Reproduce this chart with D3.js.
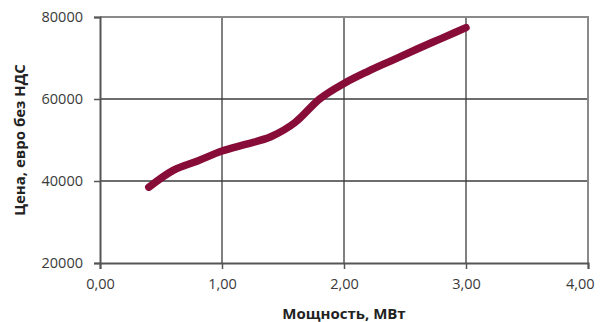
<!DOCTYPE html>
<html>
<head>
<meta charset="utf-8">
<script src="https://cdn.jsdelivr.net/npm/d3@7"></script>
<style>
  body { margin: 0; background: #fff; }
  svg { display: block; }
  .tick text { font-family: "Open Sans", sans-serif; font-size: 14.5px; fill: #3a3a3a; }
  .title { font-family: "Open Sans", sans-serif; font-size: 15px; font-weight: 700; fill: #222; }
</style>
</head>
<body>
<svg id="graphsvg" width="601" height="322"></svg>
<script>
// power, MW
var power = [0.4, 0.6, 0.8, 1.0, 1.2, 1.4, 1.6, 1.8, 2.0, 2.2, 2.4, 2.6, 2.8, 3.0];
// price, EUR w/o VAT
var price = [38500, 42600, 44900, 47300, 49000, 50800, 54300, 60000, 63800, 66800, 69500, 72200, 74800, 77400];
var xTicks = [0, 1, 2, 3, 4];
var yTicks = [20000, 40000, 60000, 80000];

var svg = d3.select("#graphsvg"),
    margin = {top: 17, right: 13, bottom: 59, left: 100},
    width = 601 - margin.left - margin.right,
    height = 322 - margin.top - margin.bottom;

var g = svg.append("g")
  .attr("transform", "translate(" + margin.left + "," + margin.top + ")");

var x = d3.scaleLinear().domain([0, 4]).range([0, width]);
var y = d3.scaleLinear().domain([20000, 80000]).range([height, 0]);
var fmt = function(d) { return d3.format(".2f")(d).replace(".", ","); };

// grid
g.append("g").selectAll("line").data(yTicks.slice(1, -1)).enter().append("line")
  .attr("x1", 0).attr("x2", width)
  .attr("y1", function(d) { return y(d); }).attr("y2", function(d) { return y(d); })
  .attr("stroke", "#3c3c3c").attr("stroke-width", 1.3);
g.append("g").selectAll("line").data(xTicks.slice(1, -1)).enter().append("line")
  .attr("y1", 0).attr("y2", height)
  .attr("x1", function(d) { return x(d); }).attr("x2", function(d) { return x(d); })
  .attr("stroke", "#3c3c3c").attr("stroke-width", 1.3);

// frame top/right
g.append("path")
  .attr("d", "M0,0H" + width + "V" + height)
  .attr("fill", "none").attr("stroke", "#8a8a8a").attr("stroke-width", 2);

// axes
var yAxis = g.append("g")
  .call(d3.axisLeft(y).tickValues(yTicks).tickFormat(d3.format("d")).tickSizeOuter(0).tickSize(6).tickPadding(11));
var xAxis = g.append("g")
  .attr("transform", "translate(0," + height + ")")
  .call(d3.axisBottom(x).tickValues(xTicks).tickFormat(fmt).tickSizeOuter(0).tickSize(6).tickPadding(10));
[xAxis, yAxis].forEach(function(a) {
  a.select(".domain").attr("stroke", "#555").attr("stroke-width", 2);
  a.selectAll(".tick line").attr("stroke", "#555").attr("stroke-width", 1.5);
});
// last label pulled inside like the original
xAxis.selectAll(".tick text").filter(function(d) { return d === 4; })
  .attr("text-anchor", "end").attr("x", 6);

// line
var data = power.map(function(p, i) { return {x: p, y: price[i]}; });
g.append("path")
  .datum(data)
  .attr("fill", "none")
  .attr("stroke", "#870c38")
  .attr("stroke-width", 7.5)
  .attr("stroke-linecap", "round")
  .attr("stroke-linejoin", "round")
  .attr("d", d3.line()
    .x(function(d) { return x(d.x); })
    .y(function(d) { return y(d.y); })
    .curve(d3.curveMonotoneX));

// titles
svg.append("text").attr("class", "title")
  .attr("x", margin.left + width / 2).attr("y", 319)
  .attr("text-anchor", "middle")
  .text("Мощность, МВт");
svg.append("text").attr("class", "title")
  .attr("transform", "translate(25," + (margin.top + height / 2) + ") rotate(-90)")
  .attr("text-anchor", "middle")
  .text("Цена, евро без НДС");
</script>
</body>
</html>
